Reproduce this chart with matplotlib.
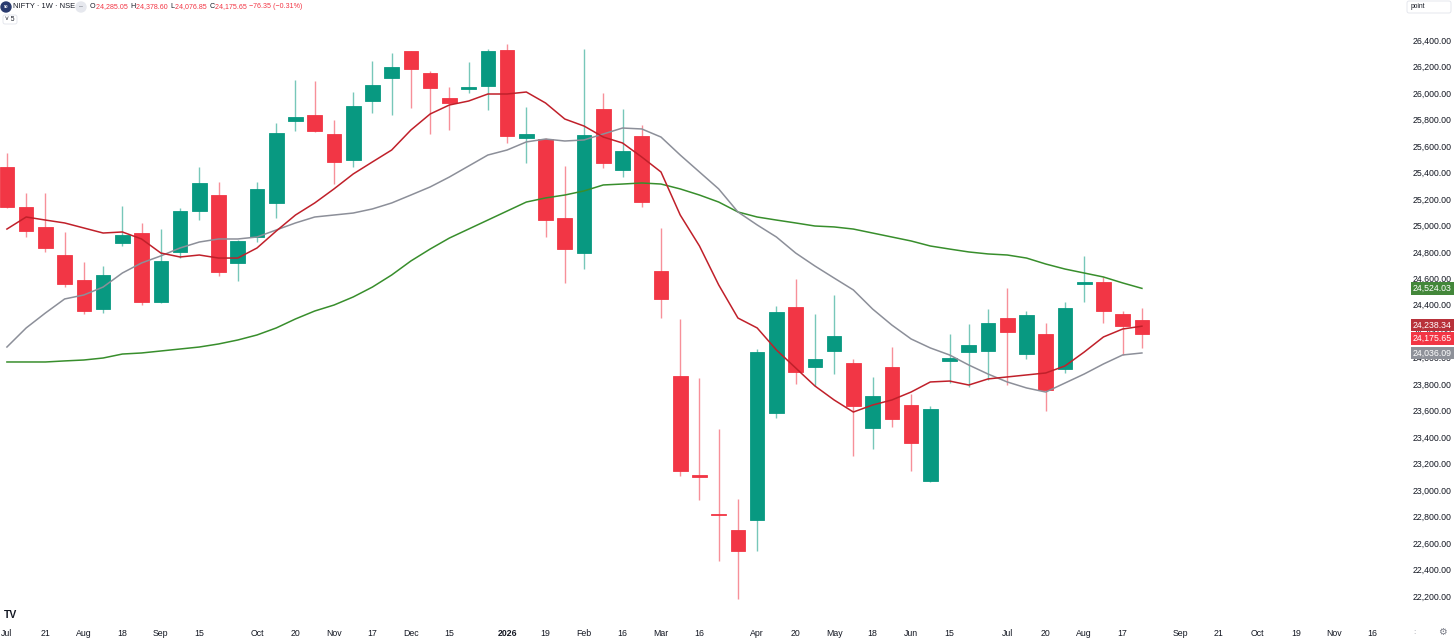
import matplotlib
matplotlib.use("Agg")
import matplotlib.pyplot as plt
import matplotlib.transforms as mtransforms
from matplotlib.patches import Circle, FancyBboxPatch
import numpy as np

plt.rcParams['font.family'] = ['Liberation Sans', 'DejaVu Sans']

# weekly NIFTY candles, first bar = week of 7 Jul 2025
opens = [25441, 25139, 24988, 24776, 24587, 24368, 24867, 24942, 24421, 24799,
         25108, 25229, 24716, 24912, 25169, 25788, 25834, 25690, 25494, 25939,
         26113, 26317, 26151, 25962, 26030, 26053, 26324, 25660, 25652, 25056,
         24791, 25879, 25418, 25675, 24655, 23862, 23112, 22818, 22699, 22775,
         23583, 24383, 23930, 24051, 23960, 23469, 23930, 23643, 23069, 23975,
         24043, 24051, 24300, 24028, 24179, 23915, 24560, 24572, 24330, 24285.05]
highs = [25546, 25244, 25244, 24950, 24723, 24693, 25146, 25018, 24972, 25131,
         25441, 25327, 24890, 25327, 25773, 26098, 26090, 25796, 26007, 26241,
         26302, 26320, 26166, 26045, 26234, 26332, 26370, 25894, 25660, 25448,
         26332, 26000, 25879, 25758, 24980, 24293, 23847, 23462, 22933, 24066,
         24391, 24595, 24330, 24474, 23991, 23855, 24081, 23726, 23636, 24179,
         24255, 24368, 24527, 24353, 24262, 24421, 24769, 24610, 24353, 24378.60]
lows = [25130, 24912, 24799, 24534, 24330, 24338, 24844, 24398, 24410, 24753,
        25040, 24617, 24580, 24874, 25056, 25713, 25705, 25312, 25441, 25849,
        25834, 25886, 25690, 25720, 26000, 25871, 25622, 25471, 24912, 24565,
        24670, 25433, 25365, 25139, 24300, 23107, 22926, 22465, 22175, 22540,
        23545, 23802, 23787, 23877, 23258, 23311, 23477, 23145, 23062, 23809,
        23779, 23832, 23794, 23991, 23598, 23885, 24421, 24262, 24021, 24076.85]
closes = [25139, 24957, 24829, 24557, 24353, 24625, 24927, 24421, 24731, 25108,
          25320, 24648, 24882, 25275, 25698, 25818, 25713, 25479, 25901, 26060,
          26196, 26181, 26037, 25924, 26045, 26317, 25675, 25690, 25040, 24821,
          25682, 25471, 25562, 25176, 24444, 23145, 23100, 22810, 22540, 24043,
          24346, 23892, 23990, 24164, 23636, 23711, 23537, 23356, 23613, 23998,
          24096, 24262, 24195, 24323, 23756, 24376, 24570, 24353, 24240, 24175.65]

# moving averages
ma_fast = [24972, 25063, 25040, 25018, 24980, 24942, 24950, 24897, 24791, 24761,
           24776, 24753, 24753, 24829, 24957, 25078, 25169, 25275, 25388, 25479,
           25569, 25720, 25841, 25909, 25939, 25992, 25992, 26007, 25924, 25803,
           25750, 25667, 25622, 25516, 25403, 25078, 24844, 24550, 24300, 24225,
           24059, 23923, 23787, 23681, 23590, 23643, 23681, 23741, 23817, 23824,
           23794, 23840, 23855, 23870, 23885, 23938, 24043, 24157, 24217, 24238.34]
ma_mid = [24081, 24225, 24338, 24444, 24474, 24534, 24640, 24716, 24769, 24829,
          24874, 24897, 24897, 24912, 24965, 25018, 25063, 25078, 25093, 25124,
          25169, 25229, 25290, 25365, 25448, 25531, 25569, 25630, 25652, 25637,
          25645, 25690, 25735, 25728, 25667, 25531, 25403, 25275, 25101, 25003,
          24912, 24791, 24693, 24602, 24512, 24368, 24247, 24142, 24074, 24021,
          23945, 23877, 23817, 23772, 23741, 23809, 23877, 23953, 24021, 24036.09]
ma_slow = [23968, 23968, 23968, 23976, 23983, 23998, 24028, 24036, 24051, 24066,
           24081, 24104, 24134, 24172, 24225, 24293, 24353, 24398, 24459, 24534,
           24625, 24731, 24821, 24904, 24972, 25040, 25108, 25176, 25207, 25229,
           25260, 25305, 25312, 25320, 25312, 25275, 25229, 25176, 25101, 25063,
           25040, 25018, 24995, 24988, 24972, 24942, 24912, 24882, 24844, 24821,
           24799, 24784, 24776, 24753, 24708, 24670, 24640, 24610, 24565, 24524.03]

tick_weeks = [0, 2, 4, 6, 8, 10, 13, 15, 17, 19, 21, 23, 26, 28, 30, 32, 34, 36,
              39, 41, 43, 45, 47, 49, 52, 54, 56, 58, 61, 63, 65, 67, 69, 71]
tick_labels = ["Jul", "21", "Aug", "18", "Sep", "15", "Oct", "20", "Nov", "17",
               "Dec", "15", "2026", "19", "Feb", "16", "Mar", "16", "Apr", "20",
               "May", "18", "Jun", "15", "Jul", "20", "Aug", "17", "Sep", "21",
               "Oct", "19", "Nov", "16"]
price_ticks = list(range(22200, 26401, 200))

UP = "#089981"
DOWN = "#F23645"
TXT = "#131722"

W, H = 1456, 642
fig = plt.figure(figsize=(W / 100, H / 100), dpi=100)
ax = fig.add_axes([0, 18 / H, 1392 / W, 624 / H])

o = np.array(opens)
h = np.array(highs)
l = np.array(lows)
c = np.array(closes)
x = np.arange(len(o))
up = c >= o
cols = np.where(up, UP, DOWN)

ax.vlines(x, l, h, colors=cols, linewidth=1.0, alpha=0.55, zorder=2)
bottom = np.minimum(o, c)
height = np.maximum(np.abs(c - o), 8)
ax.bar(x, height, bottom=bottom, width=0.76, color=cols, edgecolor=cols,
       linewidth=0.6, zorder=3)

ax.plot(x, ma_slow, color="#388E2C", linewidth=1.1, zorder=4)
ax.plot(x, ma_mid, color="#8C8F99", linewidth=1.1, zorder=4)
ax.plot(x, ma_fast, color="#C0202A", linewidth=1.1, zorder=4)

ax.set_xlim(-0.36, 72.0)
ax.set_ylim(21989, 26702)
for s in ax.spines.values():
    s.set_visible(False)

ax.set_xticks(tick_weeks)
ax.set_xticklabels(tick_labels, fontsize=6.3, color=TXT)
for lab in ax.get_xticklabels():
    if lab.get_text() == "2026":
        lab.set_fontweight("bold")
ax.tick_params(axis="x", length=0, pad=3.5)

ax.yaxis.tick_right()
ax.set_yticks(price_ticks)
ax.set_yticklabels([f"{p:,.2f}" for p in price_ticks], fontsize=6.3, color=TXT)
ax.tick_params(axis="y", length=0, pad=15)

# price badges on the scale
trans = mtransforms.blended_transform_factory(ax.transAxes, ax.transData)
badges = [
    (ma_slow[-1], "#43873A", 0),
    (ma_fast[-1], "#B8313A", 1),
    (closes[-1], DOWN, -4),
    (ma_mid[-1], "#8E9199", 0),
]
for val, col, dy in badges:
    ax.annotate(f"{val:,.2f}", xy=(1.0151, val), xycoords=trans,
                xytext=(0, dy), textcoords="offset pixels",
                fontsize=6.3, color="white", va="center", ha="left",
                annotation_clip=False, zorder=6,
                bbox=dict(boxstyle="square,pad=0.2", fc=col, ec="none"))

# overlay for the chart furniture
ov = fig.add_axes([0, 0, 1, 1], facecolor="none")
ov.set_xlim(0, W)
ov.set_ylim(H, 0)
ov.axis("off")

ov.add_patch(Circle((6, 7), 5, color="#2A3B6E"))
ov.text(6, 7.3, "50", fontsize=3, color="white", ha="center", va="center",
        fontweight="bold")
ov.text(13, 7, "NIFTY · 1W · NSE", fontsize=5.4, color=TXT, va="center")
ov.add_patch(Circle((81, 7), 5, color="#E6E8EE"))
ov.text(81, 7, "–", fontsize=5, color="#787B86", ha="center", va="center")

# OHLC legend laid out piece by piece
renderer = fig.canvas.get_renderer()
header = [("O", TXT), ("24,285.05 ", DOWN), ("H", TXT), ("24,378.60 ", DOWN),
          ("L", TXT), ("24,076.85 ", DOWN), ("C", TXT), ("24,175.65 ", DOWN),
          ("−76.35 (−0.31%)", DOWN)]
px = 90
for txt, col in header:
    t = ov.text(px, 7, txt, fontsize=5.1, color=col, va="center")
    px += t.get_window_extent(renderer).width + 0.5

ov.add_patch(FancyBboxPatch((3, 15), 14, 9, boxstyle="round,pad=0,rounding_size=2",
                            fc="white", ec="#E0E3EB", lw=0.6))
ov.text(10, 19.5, "˅ 5", fontsize=4.8, color=TXT, ha="center", va="center")

ov.add_patch(FancyBboxPatch((1407, 1), 44, 12, boxstyle="round,pad=0,rounding_size=2",
                            fc="white", ec="#E0E3EB", lw=0.6))
ov.text(1411, 7, "point", fontsize=4.8, color=TXT, va="center")

ov.text(4, 615, "TV", fontsize=7.5, color=TXT, fontweight="bold", va="center")
ov.text(1414, 632, ":", fontsize=6, color="#9598A1", ha="center", va="center")
ov.text(1442, 632, "⚙", fontsize=7, color="#787B86", ha="center", va="center",
        family="DejaVu Sans")

fig.savefig("out.png", dpi=100, facecolor="white")
